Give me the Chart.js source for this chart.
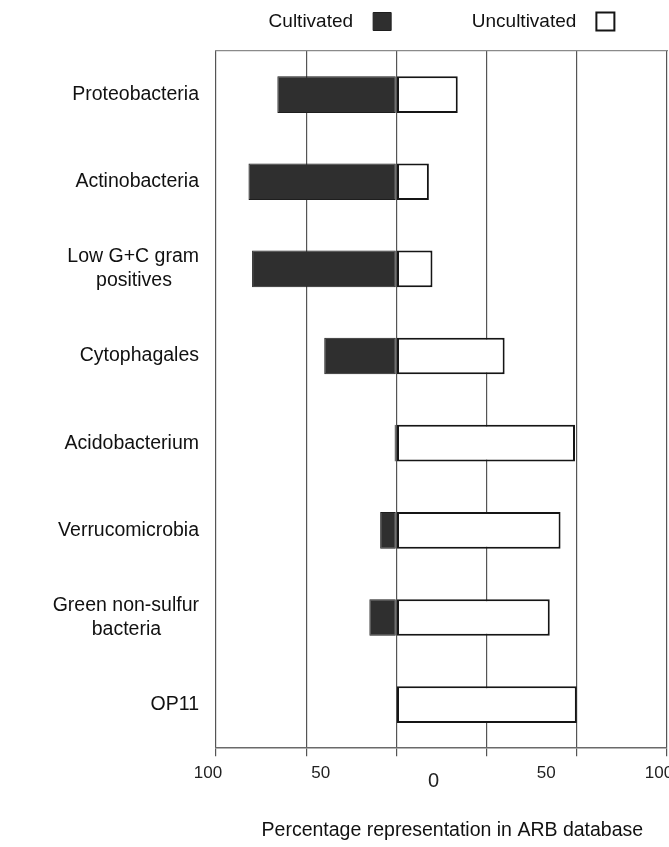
<!DOCTYPE html>
<html>
<head>
<meta charset="utf-8">
<script src="https://cdn.jsdelivr.net/npm/chart.js@4/dist/chart.umd.min.js"></script>
<style>
  html, body { margin: 0; padding: 0; background: #ffffff; }
  #wrap { width: 669px; height: 847px; position: relative; }
</style>
</head>
<body>
<div id="wrap"><canvas id="c"></canvas></div>
<script>
// ---- data ----
const categories = [
  'Proteobacteria',
  'Actinobacteria',
  ['Low G+C gram', 'positives'],
  'Cytophagales',
  'Acidobacterium',
  'Verrucomicrobia',
  ['Green non-sulfur', 'bacteria'],
  'OP11'
];
const seriesNames = ['Cultivated', 'Uncultivated'];
const cultivated   = [66, 82, 80, 40, 1, 9, 15, 0];    // % (drawn to the left)
const uncultivated = [34, 18, 20, 60, 99, 91, 85, 100]; // % (drawn to the right)
const axisTickValues = [-100, -50, 0, 50, 100];
const axisTickLabels = ['100', '50', '0', '50', '100'];
const xTitle = 'Percentage representation in ARB database';

// ---- styling helpers ----
const FONT = "'Liberation Sans', Arial, Helvetica, sans-serif";
const mctx = document.createElement('canvas').getContext('2d');
function centerLines(label, size) {
  if (!Array.isArray(label)) return label;
  mctx.font = size + 'px ' + FONT;
  const ws = label.map(s => mctx.measureText(s).width);
  const max = Math.max(...ws);
  const sp = mctx.measureText(' ').width;
  return label.map((s, i) => s + ' '.repeat(Math.round((max - ws[i]) / 2 / sp)));
}

new Chart(document.getElementById('c'), {
  type: 'bar',
  data: {
    labels: categories,
    datasets: [
      {
        label: seriesNames[0],
        data: cultivated.map(v => -v),
        backgroundColor: '#2f2f2f',
        borderColor: '#1e1e1e',
        borderWidth: 1,
        borderSkipped: false,
        barPercentage: 0.42,
        categoryPercentage: 1
      },
      {
        label: seriesNames[1],
        data: uncultivated,
        backgroundColor: '#ffffff',
        borderColor: '#151515',
        borderWidth: 2,
        borderSkipped: false,
        barPercentage: 0.42,
        categoryPercentage: 1
      }
    ]
  },
  options: {
    indexAxis: 'y',
    responsive: true,
    maintainAspectRatio: false,
    animation: false,
    layout: { padding: { left: 0, right: 2, top: 0, bottom: 0 } },
    plugins: {
      tooltip: { enabled: false },
      legend: {
        position: 'top',
        fullSize: false,
        align: 'center',
        rtl: true,
        reverse: true,
        textDirection: 'ltr',
        labels: {
          boxWidth: 18,
          boxHeight: 18,
          padding: 12,
          color: '#111',
          font: { family: FONT, size: 19 },
          generateLabels(chart) {
            const items = Chart.defaults.plugins.legend.labels.generateLabels(chart);
            items.forEach(it => {
              it.text = (it.datasetIndex === 1 ? ' '.repeat(13) : '') + it.text + '  ';
            });
            return items;
          }
        }
      }
    },
    scales: {
      x: {
        type: 'linear',
        position: 'bottom',
        weight: 0,
        min: -100,
        max: 150,
        stacked: true,
        ticks: { display: false, stepSize: 50 },
        grid: { color: '#555', lineWidth: 1.2, drawTicks: true, tickLength: 8, tickColor: '#555' },
        border: { display: true, color: '#6a6a6a', width: 1.5 }
      },
      x2: {
        type: 'linear',
        position: 'bottom',
        weight: 1,
        min: -100,
        max: 100,
        grid: { display: false, drawTicks: false },
        border: { display: false },
        ticks: {
          stepSize: 50,
          autoSkip: false,
          maxRotation: 0,
          padding: 7,
          labelOffset: -8,
          color: '#222',
          callback: (v) => {
            const i = axisTickValues.indexOf(v);
            return i >= 0 ? axisTickLabels[i] : '';
          },
          font: (ctx) => (ctx.tick && ctx.tick.value === 0)
            ? { family: FONT, size: 20, lineHeight: 1.82 }
            : { family: FONT, size: 17, lineHeight: 1.2 }
        },
        title: {
          display: true,
          text: '    ' + xTitle,
          color: '#111',
          font: { family: FONT, size: 19.5 },
          padding: { top: 12, bottom: 5 }
        },
        afterFit: (s) => { s.paddingLeft = 0; s.paddingRight = 0; }
      },
      xTop: {
        type: 'linear',
        position: 'top',
        min: -100,
        max: 150,
        ticks: { display: false, stepSize: 50 },
        grid: { display: true, drawOnChartArea: false, drawTicks: true, tickLength: 10, tickColor: 'rgba(0,0,0,0)' },
        border: { display: true, color: '#8a8a8a', width: 1.2 }
      },
      y: {
        type: 'category',
        stacked: true,
        grid: { display: false, drawTicks: false },
        border: { display: false },
        ticks: {
          padding: 17,
          color: '#111',
          font: { family: FONT, size: 19.5, lineHeight: 1.25 },
          callback: (v, i) => centerLines(categories[i], 19.5)
        },
        afterFit: (s) => { s.width = 216; }
      }
    }
  }
});
</script>
</body>
</html>
